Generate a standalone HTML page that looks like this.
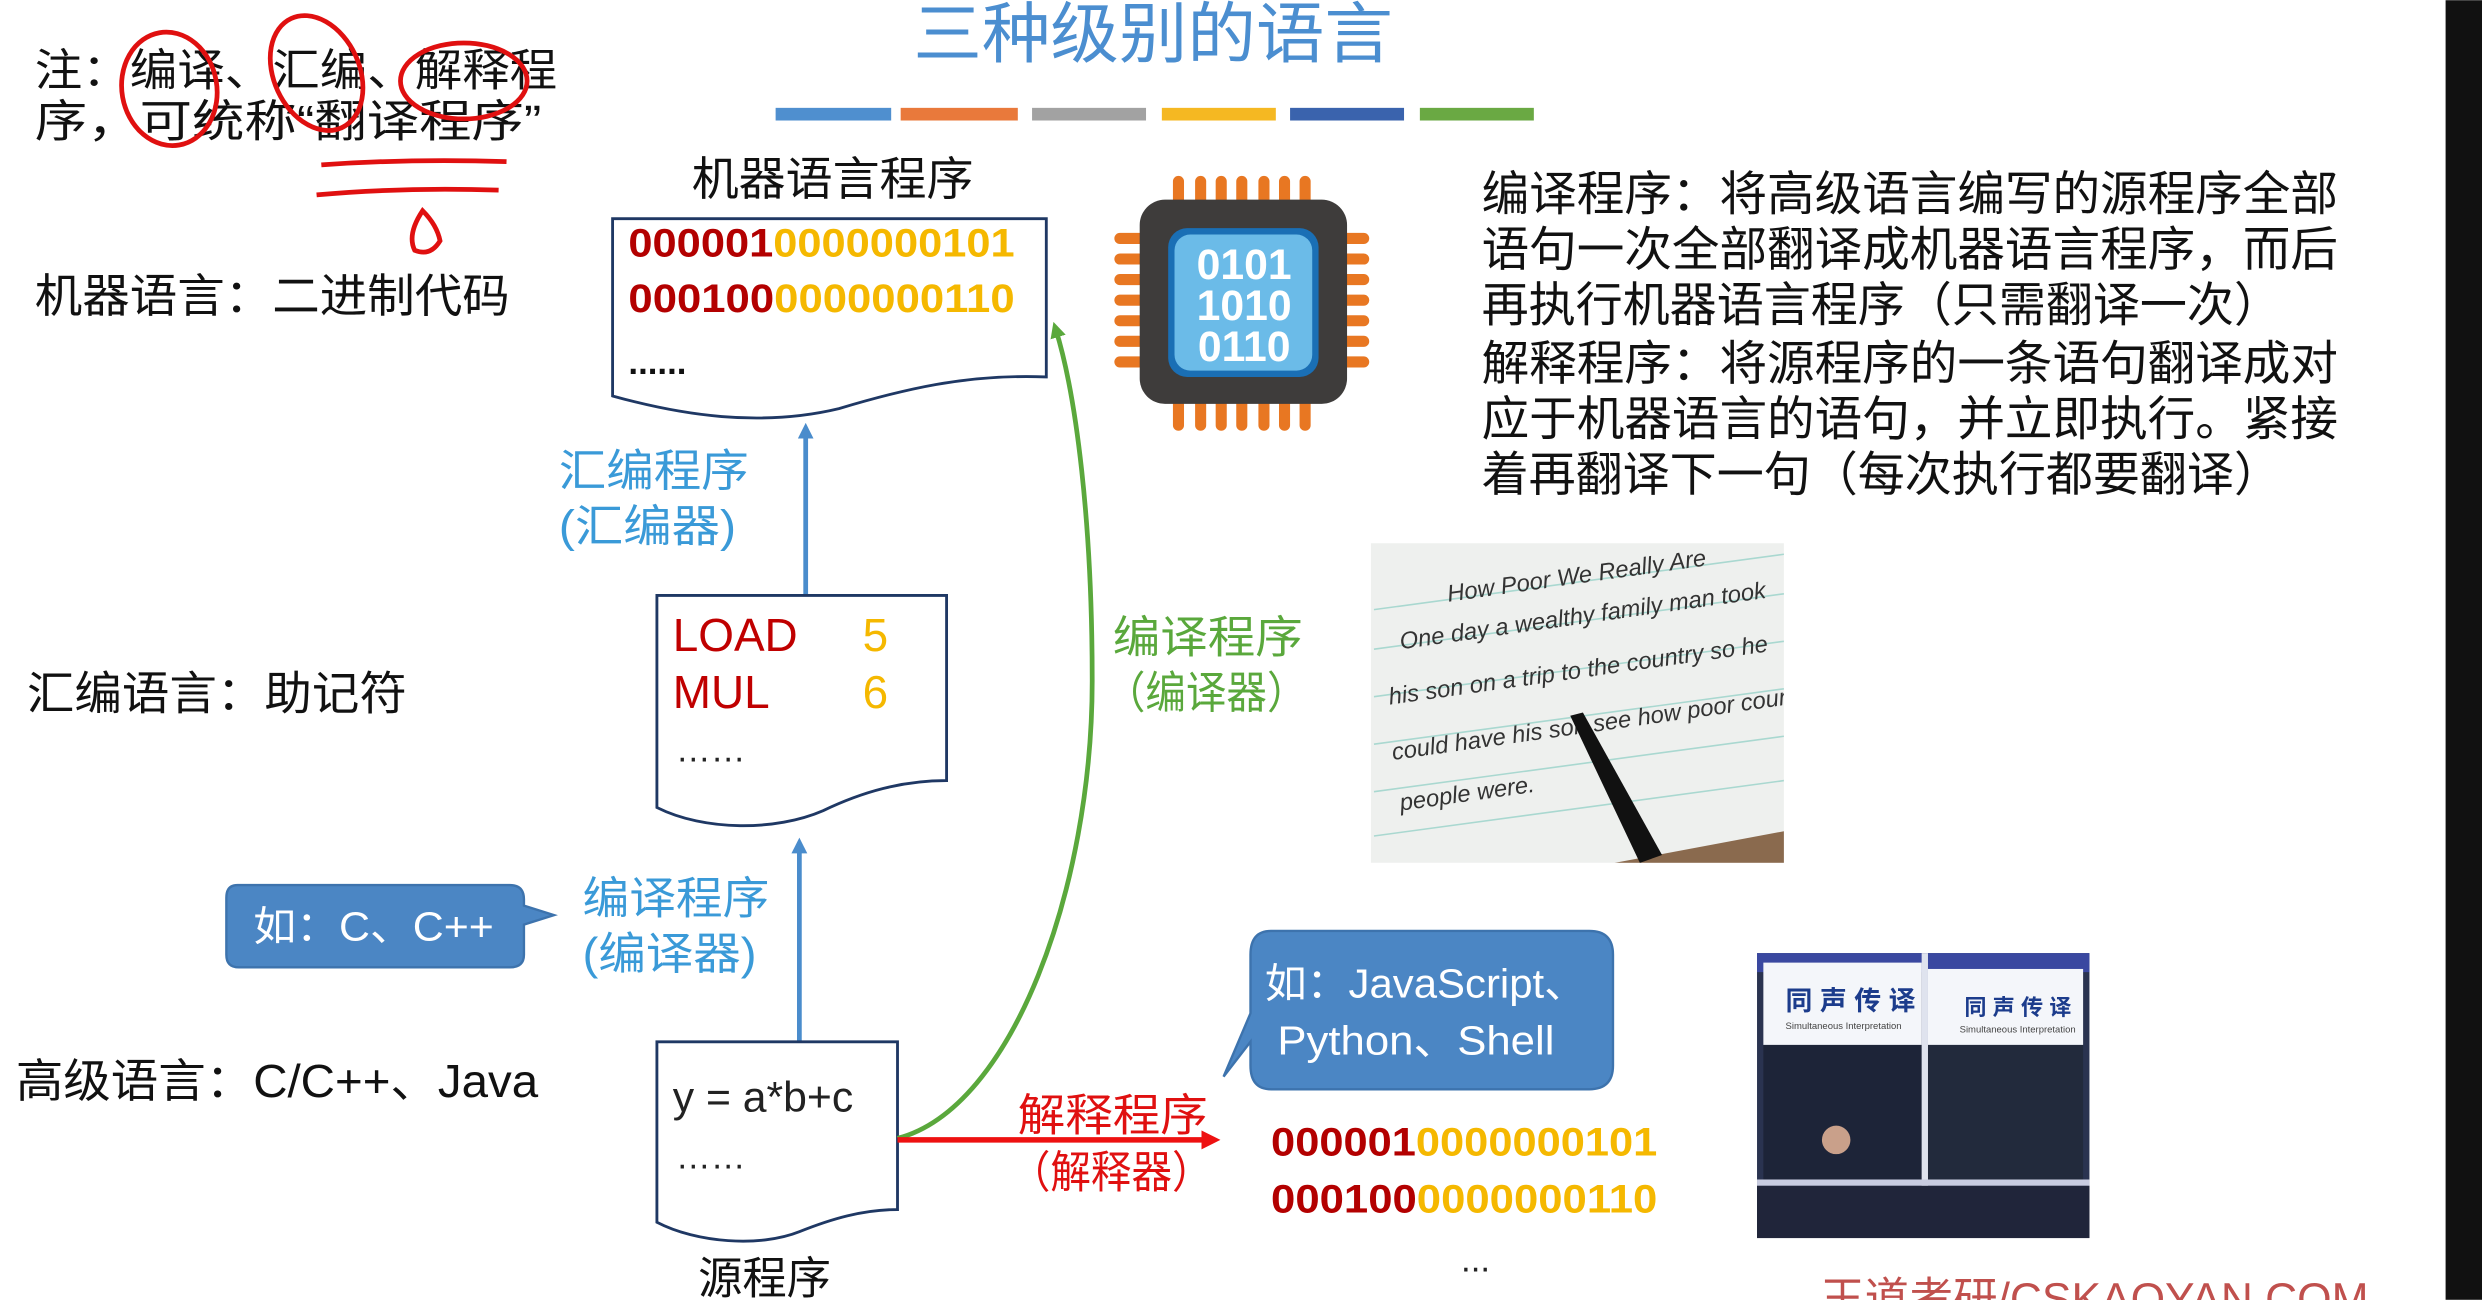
<!DOCTYPE html>
<html><head><meta charset="utf-8"><style>
html,body{margin:0;padding:0;background:#fff;}
body{width:2482px;height:1300px;overflow:hidden;}
svg{display:block}
text{font-family:"Liberation Sans","Noto Sans CJK SC",sans-serif;}
</style></head><body>
<svg width="2482" height="1300" viewBox="0 0 1568 821" xmlns="http://www.w3.org/2000/svg">
<defs>
<marker id="ab" markerWidth="10" markerHeight="10" refX="5" refY="5" orient="auto" markerUnits="userSpaceOnUse"><path d="M0,0 L10,5 L0,10 Z" fill="#4a8ccc"/></marker>
<marker id="ag" markerWidth="10" markerHeight="10" refX="5" refY="5" orient="auto" markerUnits="userSpaceOnUse"><path d="M0,0 L10,5 L0,10 Z" fill="#5aa83c"/></marker>
<marker id="ar" markerWidth="12" markerHeight="12" refX="6" refY="6" orient="auto" markerUnits="userSpaceOnUse"><path d="M0,0 L12,6 L0,12 Z" fill="#ee1111"/></marker>
<clipPath id="cp"><rect x="866" y="343" width="261" height="202"/></clipPath>
</defs>
<rect width="1568" height="821" fill="#fff"/>
<rect x="1545" y="0" width="23" height="821" fill="#111"/>

<text x="577" y="36" font-size="42" fill="#4b8ed0" textLength="303" lengthAdjust="spacingAndGlyphs">三种级别的语言</text>
<rect x="490" y="68" width="73" height="8" fill="#4f8fcf"/>
<rect x="569" y="68" width="74" height="8" fill="#e9793b"/>
<rect x="652" y="68" width="72" height="8" fill="#a2a2a2"/>
<rect x="734" y="68" width="72" height="8" fill="#f5b822"/>
<rect x="815" y="68" width="72" height="8" fill="#3a63ad"/>
<rect x="897" y="68" width="72" height="8" fill="#6aa943"/>

<text x="22" y="54" font-size="28" fill="#111" textLength="330" lengthAdjust="spacingAndGlyphs">注：编译、汇编、解释程</text>
<text x="22" y="86" font-size="28" fill="#111" textLength="320" lengthAdjust="spacingAndGlyphs">序，可统称“翻译程序”</text>
<g fill="none" stroke="#e01010" stroke-width="3">
<ellipse cx="107" cy="56" rx="30" ry="36" transform="rotate(-10 107 56)"/>
<ellipse cx="200" cy="46" rx="27" ry="38" transform="rotate(-25 200 46)"/>
<ellipse cx="293" cy="51" rx="40" ry="24"/>
<path d="M203,104 Q260,100 320,102"/>
<path d="M200,123 Q255,118 315,120"/>
<path d="M267,133 Q257,148 262,158 Q272,162 278,152 Q276,142 267,133Z"/>
</g>

<text x="22" y="197" font-size="29" fill="#111" textLength="300" lengthAdjust="spacingAndGlyphs">机器语言：二进制代码</text>
<text x="17" y="448" font-size="29" fill="#111" textLength="240" lengthAdjust="spacingAndGlyphs">汇编语言：助记符</text>
<text x="10" y="693" font-size="29" fill="#111" textLength="330" lengthAdjust="spacingAndGlyphs">高级语言：C/C++、Java</text>

<text x="437" y="123" font-size="29" fill="#111" textLength="178" lengthAdjust="spacingAndGlyphs">机器语言程序</text>
<path d="M387,138 H661 V238 C610,236 570,246 530,258 C480,270 430,262 387,250 Z" fill="#fff" stroke="#1f3864" stroke-width="1.8"/>
<text x="397" y="162" font-size="25" font-weight="bold" textLength="244" lengthAdjust="spacingAndGlyphs"><tspan fill="#b30000">000001</tspan><tspan fill="#f5b800">0000000101</tspan></text>
<text x="397" y="197" font-size="25" font-weight="bold" textLength="244" lengthAdjust="spacingAndGlyphs"><tspan fill="#b30000">000100</tspan><tspan fill="#f5b800">0000000110</tspan></text>
<text x="397" y="236" font-size="22" font-weight="bold" fill="#111">......</text>

<g fill="#e87722">
<rect x="741" y="111" width="7" height="22" rx="3.5"/><rect x="755" y="111" width="7" height="22" rx="3.5"/><rect x="768" y="111" width="7" height="22" rx="3.5"/><rect x="781" y="111" width="7" height="22" rx="3.5"/><rect x="795" y="111" width="7" height="22" rx="3.5"/><rect x="808" y="111" width="7" height="22" rx="3.5"/><rect x="821" y="111" width="7" height="22" rx="3.5"/>
<rect x="741" y="250" width="7" height="22" rx="3.5"/><rect x="755" y="250" width="7" height="22" rx="3.5"/><rect x="768" y="250" width="7" height="22" rx="3.5"/><rect x="781" y="250" width="7" height="22" rx="3.5"/><rect x="795" y="250" width="7" height="22" rx="3.5"/><rect x="808" y="250" width="7" height="22" rx="3.5"/><rect x="821" y="250" width="7" height="22" rx="3.5"/>
<rect x="704" y="147" width="22" height="7" rx="3.5"/><rect x="704" y="160" width="22" height="7" rx="3.5"/><rect x="704" y="173" width="22" height="7" rx="3.5"/><rect x="704" y="186" width="22" height="7" rx="3.5"/><rect x="704" y="199" width="22" height="7" rx="3.5"/><rect x="704" y="212" width="22" height="7" rx="3.5"/><rect x="704" y="225" width="22" height="7" rx="3.5"/>
<rect x="843" y="147" width="22" height="7" rx="3.5"/><rect x="843" y="160" width="22" height="7" rx="3.5"/><rect x="843" y="173" width="22" height="7" rx="3.5"/><rect x="843" y="186" width="22" height="7" rx="3.5"/><rect x="843" y="199" width="22" height="7" rx="3.5"/><rect x="843" y="212" width="22" height="7" rx="3.5"/><rect x="843" y="225" width="22" height="7" rx="3.5"/>
</g>
<rect x="720" y="126" width="131" height="129" rx="16" fill="#3e3c3b"/>
<rect x="738" y="144" width="95" height="94" rx="12" fill="#1a6fb5"/>
<rect x="742" y="148" width="87" height="86" rx="10" fill="#6bbbe8"/>
<g font-size="27" font-weight="bold" fill="#fff" text-anchor="middle">
<text x="786" y="176">0101</text><text x="786" y="202">1010</text><text x="786" y="228">0110</text>
</g>

<g font-size="30" fill="#111">
<text x="936" y="133" textLength="541" lengthAdjust="spacingAndGlyphs">编译程序：将高级语言编写的源程序全部</text>
<text x="936" y="168" textLength="541" lengthAdjust="spacingAndGlyphs">语句一次全部翻译成机器语言程序，而后</text>
<text x="936" y="203" textLength="505" lengthAdjust="spacingAndGlyphs">再执行机器语言程序（只需翻译一次）</text>
<text x="936" y="240" textLength="541" lengthAdjust="spacingAndGlyphs">解释程序：将源程序的一条语句翻译成对</text>
<text x="936" y="275" textLength="541" lengthAdjust="spacingAndGlyphs">应于机器语言的语句，并立即执行。紧接</text>
<text x="936" y="310" textLength="505" lengthAdjust="spacingAndGlyphs">着再翻译下一句（每次执行都要翻译）</text>
</g>

<line x1="509" y1="376" x2="509" y2="272" stroke="#4a8ccc" stroke-width="3" marker-end="url(#ab)"/>
<g font-size="28" fill="#3a9ad8">
<text x="353" y="307" textLength="120" lengthAdjust="spacingAndGlyphs">汇编程序</text>
<text x="353" y="342" textLength="112" lengthAdjust="spacingAndGlyphs">(汇编器)</text>
</g>

<path d="M415,376 H598 V493 C570,493 545,500 520,512 C490,525 445,525 415,510 Z" fill="#fff" stroke="#1f3864" stroke-width="1.8"/>
<g font-size="29">
<text x="425" y="411" fill="#c00000">LOAD</text><text x="545" y="411" fill="#f5b800">5</text>
<text x="425" y="447" fill="#c00000">MUL</text><text x="545" y="447" fill="#f5b800">6</text>
<text x="427" y="481" fill="#222" font-size="22">……</text>
</g>

<line x1="505" y1="658" x2="505" y2="534" stroke="#4a8ccc" stroke-width="3" marker-end="url(#ab)"/>
<g font-size="28" fill="#3a9ad8">
<text x="368" y="577" textLength="118" lengthAdjust="spacingAndGlyphs">编译程序</text>
<text x="368" y="612" textLength="110" lengthAdjust="spacingAndGlyphs">(编译器)</text>
</g>
<path d="M150,559 H322 Q331,559 331,568 V572 L350,578 L331,584 V603 Q331,611 322,611 H151 Q143,611 143,603 V567 Q143,559 150,559 Z" fill="#4b86c4" stroke="#3d73ad" stroke-width="1.5"/>
<text x="160" y="594" font-size="26" fill="#fff" textLength="152" lengthAdjust="spacingAndGlyphs">如：C、C++</text>

<path d="M415,658 H567 V764 C545,764 525,770 505,778 C480,788 440,785 415,772 Z" fill="#fff" stroke="#1f3864" stroke-width="1.8"/>
<text x="425" y="702" font-size="27" fill="#222">y = a*b+c</text>
<text x="427" y="738" font-size="22" fill="#222">……</text>
<text x="441" y="817" font-size="28" fill="#111">源程序</text>

<path d="M567,719 C640,700 690,560 690,430 C690,330 680,250 667,208" fill="none" stroke="#5aa83c" stroke-width="3" marker-end="url(#ag)"/>
<g font-size="28" fill="#5aa83c">
<text x="703" y="412" textLength="120" lengthAdjust="spacingAndGlyphs">编译程序</text>
<text x="698" y="447" textLength="128" lengthAdjust="spacingAndGlyphs">（编译器）</text>
</g>

<line x1="567" y1="720" x2="765" y2="720" stroke="#ee1111" stroke-width="3.5" marker-end="url(#ar)"/>
<g font-size="28" fill="#e01010">
<text x="643" y="714" textLength="120" lengthAdjust="spacingAndGlyphs">解释程序</text>
<text x="638" y="750" textLength="128" lengthAdjust="spacingAndGlyphs">（解释器）</text>
</g>

<path d="M803,588 H1004 Q1019,588 1019,603 V673 Q1019,688 1004,688 H803 Q790,688 790,673 V658 L773,680 L790,640 V603 Q790,588 803,588 Z" fill="#4b86c4" stroke="#3d73ad" stroke-width="1.5"/>
<text x="799" y="630" font-size="26" fill="#fff" textLength="203" lengthAdjust="spacingAndGlyphs">如：JavaScript、</text>
<text x="807" y="666" font-size="26" fill="#fff" textLength="175" lengthAdjust="spacingAndGlyphs">Python、Shell</text>
<text x="803" y="730" font-size="25" font-weight="bold" textLength="244" lengthAdjust="spacingAndGlyphs"><tspan fill="#b30000">000001</tspan><tspan fill="#f5b800">0000000101</tspan></text>
<text x="803" y="766" font-size="25" font-weight="bold" textLength="244" lengthAdjust="spacingAndGlyphs"><tspan fill="#b30000">000100</tspan><tspan fill="#f5b800">0000000110</tspan></text>
<text x="923" y="803" font-size="22" fill="#222">...</text>

<g clip-path="url(#cp)">
<rect x="866" y="343" width="261" height="202" fill="#eef0ee"/>
<g stroke="#a9d8d0" stroke-width="1">
<line x1="868" y1="385" x2="1127" y2="350"/><line x1="868" y1="410" x2="1127" y2="375"/><line x1="868" y1="440" x2="1127" y2="405"/><line x1="868" y1="470" x2="1127" y2="435"/><line x1="868" y1="500" x2="1127" y2="465"/><line x1="868" y1="528" x2="1127" y2="493"/>
</g>
<polygon points="1020,545 1127,525 1127,545" fill="#8a6a4e"/>
<g font-family="Liberation Serif,serif" font-style="italic" fill="#333" font-size="15">
<text x="915" y="380" transform="rotate(-8 915 380)">How Poor We Really Are</text>
<text x="885" y="410" transform="rotate(-8 885 410)">One day a wealthy family man took</text>
<text x="878" y="445" transform="rotate(-8 878 445)">his son on a trip to the country so he</text>
<text x="880" y="480" transform="rotate(-8 880 480)">could have his son see how poor country</text>
<text x="885" y="512" transform="rotate(-8 885 512)">people were.</text>
</g>
<path d="M992,452 L1000,450 L1050,540 L1036,545 Z" fill="#111"/>
</g>

<rect x="1110" y="602" width="210" height="180" fill="#2a3350"/>
<rect x="1110" y="602" width="210" height="12" fill="#3a48a0"/>
<rect x="1114" y="608" width="100" height="52" fill="#f4f6fa"/>
<rect x="1218" y="612" width="98" height="48" fill="#f4f6fa"/>
<text x="1128" y="638" font-size="17" fill="#1c3c8c" font-weight="bold">同 声 传 译</text>
<text x="1241" y="641" font-size="14" fill="#1c3c8c" font-weight="bold">同 声 传 译</text>
<text x="1128" y="650" font-size="6" fill="#444">Simultaneous Interpretation</text>
<text x="1238" y="652" font-size="6" fill="#444">Simultaneous Interpretation</text>
<rect x="1114" y="660" width="100" height="85" fill="#1d2438"/>
<rect x="1218" y="660" width="98" height="85" fill="#222a3c"/>
<rect x="1214" y="602" width="4" height="180" fill="#dfe3ee"/>
<rect x="1110" y="745" width="210" height="4" fill="#c8cce0"/>
<rect x="1110" y="749" width="210" height="33" fill="#20253a"/>
<circle cx="1160" cy="720" r="9" fill="#c9a08a"/>

<text x="1150" y="830" font-size="28" fill="#c0504d">王道考研/CSKAOYAN.COM</text>
</svg>
</body></html>
